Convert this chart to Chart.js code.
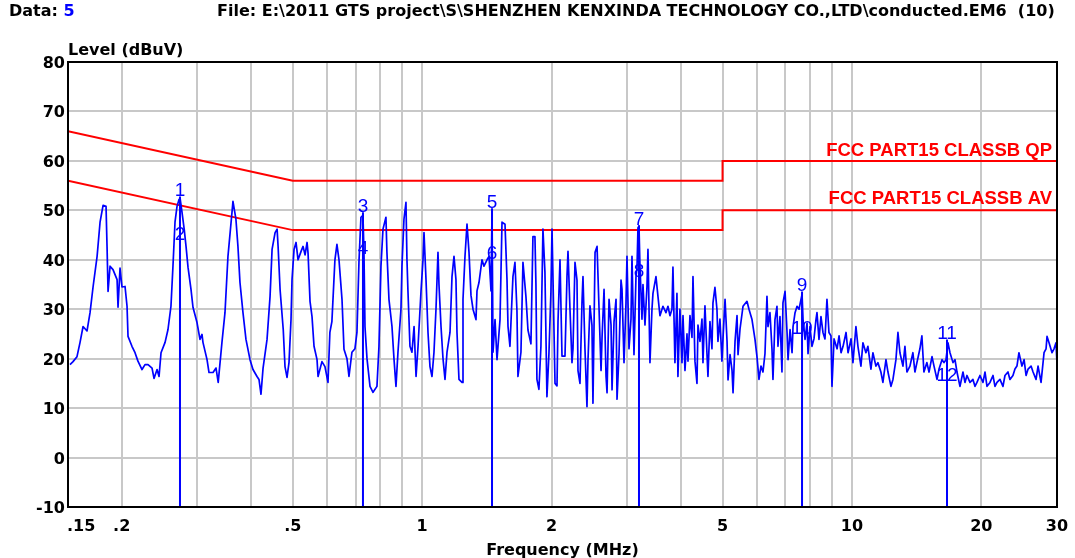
<!DOCTYPE html>
<html><head><meta charset="utf-8">
<script src="https://cdn.jsdelivr.net/npm/chart.js@4.4.0/dist/chart.umd.min.js"></script>
<style>
html,body{margin:0;padding:0;background:#fff;}
#wrap{position:relative;width:1075px;height:558px;overflow:hidden;background:#fff;}
canvas{position:absolute;left:0;top:0;}
</style></head><body>
<div id="wrap"><canvas id="c" width="1075" height="558"></canvas></div>
<script>
// ---------- data ----------
const headerData = "Data: ";
const headerDataValue = "5";
const headerFile = "File: E:\\2011 GTS project\\S\\SHENZHEN KENXINDA TECHNOLOGY CO.,LTD\\conducted.EM6  (10)";
const yTitle = "Level (dBuV)";
const xTitle = "Frequency (MHz)";

const yTickValues = [-10, 0, 10, 20, 30, 40, 50, 60, 70, 80];
const xTickValues = [0.15, 0.2, 0.5, 1, 2, 5, 10, 20, 30];
const xTickLabels = [".15", ".2", ".5", "1", "2", "5", "10", "20", "30"];
const xGridValues = [0.15,0.2,0.3,0.4,0.5,0.6,0.7,0.8,0.9,1,2,3,4,5,6,7,8,9,10,20,30];

const qpFreq  = [0.15, 0.5, 5, 5, 30];
const qpLevel = [66, 56, 56, 60, 60];
const avFreq  = [0.15, 0.5, 5, 5, 30];
const avLevel = [56, 46, 46, 50, 50];
const qpLabel = "FCC PART15 CLASSB QP";
const avLabel = "FCC PART15 CLASSB AV";

const markerNames = ["1","2","3","4","5","6","7","8","9","10","11","12"];
const markerFreq  = [0.2733,0.2733,0.7284,0.7284,1.4542,1.4542,3.1957,3.1957,7.6543,7.6543,16.642,16.642];
const markerLevel = [52.8,44.1,49.6,41.1,50.4,40.1,47.0,36.6,33.6,24.9,23.9,15.4];

const traceFreq = [
0.1516,0.1541,0.1574,0.1600,0.1626,0.1661,0.1688,0.1716,0.1753,0.1781,
0.1810,0.1839,0.1849,0.1859,0.1879,0.1909,0.1951,0.1961,0.1982,0.2003,
0.2036,0.2058,0.2069,0.2113,0.2148,0.2182,0.2230,0.2266,0.2303,0.2353,
0.2378,0.2417,0.2443,0.2469,0.2523,0.2563,0.2604,0.2632,0.2661,0.2690,
0.2719,0.2733,0.2763,0.2797,0.2823,0.2853,0.2899,0.2930,0.2994,0.3042,
0.3075,0.3091,0.3159,0.3193,0.3262,0.3315,0.3354,0.3422,0.3478,0.3534,
0.3611,0.3630,0.3688,0.3728,0.3769,0.3830,0.3892,0.3977,0.4041,0.4129,
0.4173,0.4218,0.4265,0.4357,0.4428,0.4476,0.4549,0.4598,0.4623,0.4672,
0.4752,0.4797,0.4849,0.4901,0.4954,0.4981,0.5035,0.5089,0.5144,0.5228,
0.5284,0.5341,0.5399,0.5428,0.5485,0.5544,0.5604,0.5695,0.5726,0.5847,
0.5942,0.6039,0.6101,0.6167,0.6268,0.6336,0.6406,0.6510,0.6580,0.6686,
0.6758,0.6866,0.6977,0.7053,0.7129,0.7206,0.7284,0.7323,0.7363,0.7443,
0.7564,0.7687,0.7851,0.7936,0.8021,0.8108,0.8238,0.8282,0.8372,0.8509,
0.8600,0.8693,0.8786,0.8928,0.8976,0.9073,0.9171,0.9220,0.9269,0.9369,
0.9470,0.9577,0.9680,0.9784,0.9941,1.0047,1.0101,1.0210,1.0320,1.0430,
1.0543,1.0656,1.0771,1.0887,1.0945,1.1065,1.1184,1.1304,1.1426,1.1611,
1.1736,1.1862,1.1987,1.2054,1.2183,1.2382,1.2448,1.2582,1.2718,1.2855,
1.2993,1.3133,1.3345,1.3417,1.3561,1.3780,1.3929,1.4158,1.4310,1.4464,
1.4542,1.4620,1.4778,1.4936,1.5016,1.5178,1.5341,1.5589,1.5757,1.5842,
1.6009,1.6181,1.6268,1.6443,1.6620,1.6709,1.6980,1.7164,1.7442,1.7630,
1.7914,1.8106,1.8301,1.8400,1.8498,1.8697,1.8898,1.9103,1.9308,1.9516,
1.9726,1.9938,2.0054,2.0162,2.0379,2.0598,2.0709,2.0931,2.1157,2.1498,
2.1730,2.1847,2.2082,2.2319,2.2439,2.2681,2.2925,2.3048,2.3296,2.3546,
2.3673,2.3927,2.4185,2.4315,2.4576,2.4840,2.4974,2.5255,2.5527,2.5802,
2.6079,2.6219,2.6501,2.6786,2.6930,2.7219,2.7512,2.7660,2.7957,2.8258,
2.8410,2.8715,2.9024,2.9180,2.9494,2.9807,2.9968,3.0291,3.0617,3.0781,
3.1112,3.1447,3.1616,3.1786,3.1957,3.2128,3.2473,3.2648,3.2999,3.3354,
3.3533,3.3893,3.4258,3.4442,3.5000,3.5377,3.5757,3.6336,3.6924,3.7322,
3.7723,3.8129,3.8334,3.8746,3.9163,3.9373,3.9797,4.0236,4.0452,4.0887,
4.1327,4.1549,4.1996,4.2448,4.2676,4.3135,4.3599,4.3833,4.4305,4.4781,
4.5022,4.5506,4.5996,4.6243,4.6740,4.7243,4.7497,4.8008,4.8524,4.8785,
4.9310,4.9840,5.0134,5.0674,5.1219,5.1494,5.2048,5.2608,5.2890,5.3459,
5.4034,5.4324,5.4908,5.5797,5.6990,5.7613,5.8546,5.9490,6.0129,6.0776,
6.1431,6.2092,6.2760,6.3436,6.3777,6.4463,6.5157,6.5507,6.6212,6.6925,
6.7284,6.8009,6.8741,6.9110,6.9888,7.0639,7.1018,7.1783,7.2555,7.2945,
7.3730,7.4524,7.5326,7.6543,7.6954,7.7782,7.8619,7.9042,7.9872,8.0732,
8.1601,8.2479,8.2922,8.3815,8.4717,8.5629,8.6550,8.7482,8.8423,8.9375,
8.9856,9.0870,9.2340,9.3334,9.4339,9.5354,9.6897,9.7940,9.9525,10.054,
10.217,10.327,10.494,10.607,10.778,10.894,11.071,11.190,11.371,11.493,
11.679,11.805,12.000,12.129,12.325,12.458,12.659,12.796,12.933,13.143,
13.284,13.427,13.644,13.864,14.014,14.165,14.393,14.548,14.705,14.942,
15.113,15.358,15.523,15.774,15.944,16.202,16.376,16.553,16.731,16.911,
17.184,17.369,17.556,17.840,18.128,18.324,18.521,18.820,19.124,19.330,
19.538,19.854,20.182,20.400,20.619,20.952,21.291,21.520,21.752,22.103,
22.460,22.702,23.069,23.317,23.694,23.950,24.207,24.468,24.863,25.148,
25.419,25.693,26.108,26.389,26.815,27.104,27.542,27.839,27.988,28.290,
28.442,28.748,29.213,29.527,29.839,30.000];

const traceLevel = [
18.8,19.4,20.4,23.3,26.5,25.6,29.3,34.6,40.7,47.6,
51.0,50.8,42.7,33.6,38.7,38.0,36.0,30.4,38.3,34.5,
34.6,30.6,24.5,22.5,21.2,19.5,17.8,18.8,18.8,18.1,
16.0,17.8,16.4,21.2,23.3,25.9,30.6,38.7,47.6,50.8,
52.2,52.6,49.6,46.0,42.7,38.5,34.0,30.4,27.3,23.9,
24.9,23.3,19.8,17.2,17.2,18.1,15.2,23.3,29.3,40.7,
49.6,51.8,48.2,42.7,35.4,29.3,23.9,19.8,17.8,16.4,
15.8,12.8,18.1,23.9,32.6,42.1,45.5,46.2,42.7,34.0,
25.9,18.4,16.2,19.2,27.9,36.0,42.1,43.5,40.0,41.7,
42.7,41.0,43.5,41.3,31.6,28.5,22.5,19.8,16.4,19.4,
18.4,15.2,25.3,27.5,40.0,43.1,40.0,32.0,21.9,20.0,
16.4,21.3,22.0,25.3,39.5,48.6,49.0,41.5,26.5,20.0,
14.4,13.2,14.4,22.5,38.7,46.2,48.6,41.5,32.0,26.5,
20.0,14.4,21.3,30.0,38.7,48.2,51.6,40.0,33.7,22.5,
21.3,26.5,16.4,22.5,33.7,40.0,45.5,36.0,25.3,18.4,
16.4,21.3,30.0,41.5,35.0,26.5,20.0,15.8,21.3,25.3,
36.6,40.7,36.0,25.3,15.8,15.2,32.0,40.7,47.2,41.5,
32.8,30.0,27.9,33.7,35.4,40.0,38.7,40.0,40.7,33.7,
50.0,21.3,27.9,19.8,22.5,27.9,47.6,47.2,36.0,26.5,
22.5,32.0,36.6,39.5,29.7,16.4,21.3,39.5,32.5,25.8,
23.0,44.7,44.7,35.0,15.8,13.8,22.5,46.2,37.5,12.3,
21.0,33.5,46.2,36.0,15.0,14.5,27.5,40.0,20.5,20.5,
36.6,41.7,30.0,19.2,22.0,39.5,35.9,17.6,15.0,31.3,
36.6,22.0,10.3,19.5,30.7,26.8,11.0,41.5,42.7,30.0,
17.6,24.3,34.0,16.4,13.1,32.0,26.8,13.7,27.5,32.0,
11.8,21.0,35.9,34.0,19.2,31.3,40.7,22.0,28.0,40.7,
20.8,36.6,38.3,46.5,46.8,38.7,28.0,35.0,26.8,34.6,
42.1,19.2,30.0,33.2,36.6,32.6,28.7,30.6,29.3,30.6,
28.7,30.0,38.5,19.2,33.2,16.4,30.0,19.2,28.7,17.6,
25.0,19.5,28.7,24.3,36.6,19.5,15.0,26.8,23.5,28.0,
19.2,30.7,21.0,16.4,27.5,22.0,31.3,34.4,30.0,23.5,
28.0,19.5,24.3,32.0,23.5,15.7,20.8,17.6,13.1,23.5,
28.7,20.8,26.0,30.6,31.6,30.0,27.9,23.9,20.4,15.8,
18.5,17.3,21.0,32.6,26.5,29.3,22.0,15.8,27.9,30.6,
22.5,28.5,17.3,31.3,33.6,25.3,19.8,25.9,21.2,26.5,
29.3,30.6,30.0,33.0,27.9,23.9,27.2,21.0,26.5,22.5,
24.0,27.9,29.3,23.9,28.5,25.3,24.0,32.0,25.3,24.6,
14.4,24.0,22.0,24.6,21.2,22.5,25.3,21.2,24.0,19.2,
26.5,22.5,18.5,23.2,21.2,22.5,17.9,21.2,18.5,19.2,
17.3,15.2,19.8,17.3,14.4,15.8,19.8,25.3,21.2,18.5,
22.5,17.3,18.5,21.2,17.3,19.2,22.0,24.6,17.3,19.2,
17.3,20.4,18.5,15.8,17.9,19.8,19.2,19.8,23.2,21.2,
19.2,19.8,17.3,14.4,17.3,15.2,16.6,15.2,15.8,14.4,
15.2,16.6,15.2,17.3,14.4,15.2,16.6,14.4,15.2,15.8,
14.4,16.6,17.3,15.8,16.6,17.9,18.5,21.2,18.5,19.8,
16.6,17.9,18.5,17.3,15.8,18.5,15.2,19.2,21.2,22.0,
24.5,23.2,21.2,22.0,23.2,19.0];

// ---------- chart ----------
const BLACK_FONT = 'bold 16px "DejaVu Sans"';
const pts = (fs, ls) => fs.map((f, i) => ({x: f, y: ls[i]}));

const datasets = [];
datasets.push({label:'Level', data: pts(traceFreq, traceLevel), borderColor:'#0000ff',
  borderWidth:1.7, showLine:true, pointRadius:0, borderJoinStyle:'round', order:1});
for (let i = 0; i < markerFreq.length; i += 2) {
  datasets.push({label:'Marker ' + markerNames[i], data: pts([markerFreq[i], markerFreq[i]], [markerLevel[i], -10]),
    borderColor:'#0000ff', borderWidth:2, showLine:true, pointRadius:0, order:2});
}
datasets.push({label:qpLabel, data: pts(qpFreq, qpLevel), borderColor:'#ff0000', borderWidth:2,
  showLine:true, pointRadius:0, order:5});
datasets.push({label:avLabel, data: pts(avFreq, avLevel), borderColor:'#ff0000', borderWidth:2,
  showLine:true, pointRadius:0, order:5});

const textPlugin = {
  id: 'emcTexts',
  beforeDatasetsDraw(chart) {
    const {ctx, scales: {x, y}} = chart;
    ctx.save();
    // marker labels (trace is drawn over them, as in the original)
    ctx.fillStyle = '#0000ff';
    ctx.font = '19px "Liberation Sans"';
    ctx.textAlign = 'center';
    ctx.textBaseline = 'alphabetic';
    markerNames.forEach((n, i) => {
      ctx.fillText(n, x.getPixelForValue(markerFreq[i]), y.getPixelForValue(markerLevel[i]));
    });
    ctx.restore();
  },
  afterDraw(chart) {
    const {ctx, chartArea: a, scales: {x, y}} = chart;
    ctx.save();
    // frame
    ctx.strokeStyle = '#000'; ctx.lineWidth = 2;
    ctx.strokeRect(a.left, a.top, a.right - a.left, a.bottom - a.top);
    // header
    ctx.font = BLACK_FONT; ctx.textBaseline = 'alphabetic'; ctx.textAlign = 'left';
    ctx.fillStyle = '#000';
    ctx.fillText(headerData, 9, 16);
    const w = ctx.measureText(headerData).width;
    ctx.fillStyle = '#0000ff';
    ctx.fillText(headerDataValue, 9 + w, 16);
    ctx.fillStyle = '#000';
    ctx.fillText(headerFile, 217, 16);
    // axis titles
    ctx.fillText(yTitle, a.left, 55);
    ctx.textAlign = 'center';
    ctx.fillText(xTitle, (a.left + a.right) / 2, 555);
    // y ticks
    ctx.textAlign = 'right';
    yTickValues.forEach(v => ctx.fillText(String(v), a.left - 3, y.getPixelForValue(v) + 6));
    // x ticks
    xTickValues.forEach((v, i) => {
      const px = x.getPixelForValue(v);
      ctx.textAlign = i === 0 ? 'left' : 'center';
      ctx.fillText(xTickLabels[i], i === 0 ? a.left - 1 : px, a.bottom + 24);
    });
    // limit labels
    ctx.fillStyle = '#ff0000';
    ctx.font = 'bold 18.5px "Liberation Sans"';
    ctx.textAlign = 'right';
    ctx.fillText(qpLabel, a.right - 5, y.getPixelForValue(qpLevel[qpLevel.length - 1]) - 5);
    ctx.fillText(avLabel, a.right - 5, y.getPixelForValue(avLevel[avLevel.length - 1]) - 6);
    ctx.restore();
  }
};

new Chart(document.getElementById('c'), {
  type: 'scatter',
  data: {datasets},
  options: {
    responsive: false, animation: false, devicePixelRatio: 1,
    plugins: {legend: {display: false}, tooltip: {enabled: false}},
    layout: {padding: {top: 62, right: 18, left: 0, bottom: 0}},
    elements: {line: {tension: 0}},
    scales: {
      x: {
        type: 'logarithmic', min: 0.15, max: 30,
        afterBuildTicks: s => { s.ticks = xGridValues.map(v => ({value: v})); },
        afterFit: s => { s.height = 51; },
        ticks: {display: false},
        grid: {color: '#c8c8c8', lineWidth: 2, drawTicks: false},
        border: {display: false}
      },
      y: {
        type: 'linear', min: -10, max: 80,
        afterBuildTicks: s => { s.ticks = yTickValues.map(v => ({value: v})); },
        afterFit: s => { s.width = 68; },
        ticks: {display: false},
        grid: {color: '#c8c8c8', lineWidth: 2, drawTicks: false},
        border: {display: false}
      }
    }
  },
  plugins: [textPlugin]
});
</script>
</body></html>
